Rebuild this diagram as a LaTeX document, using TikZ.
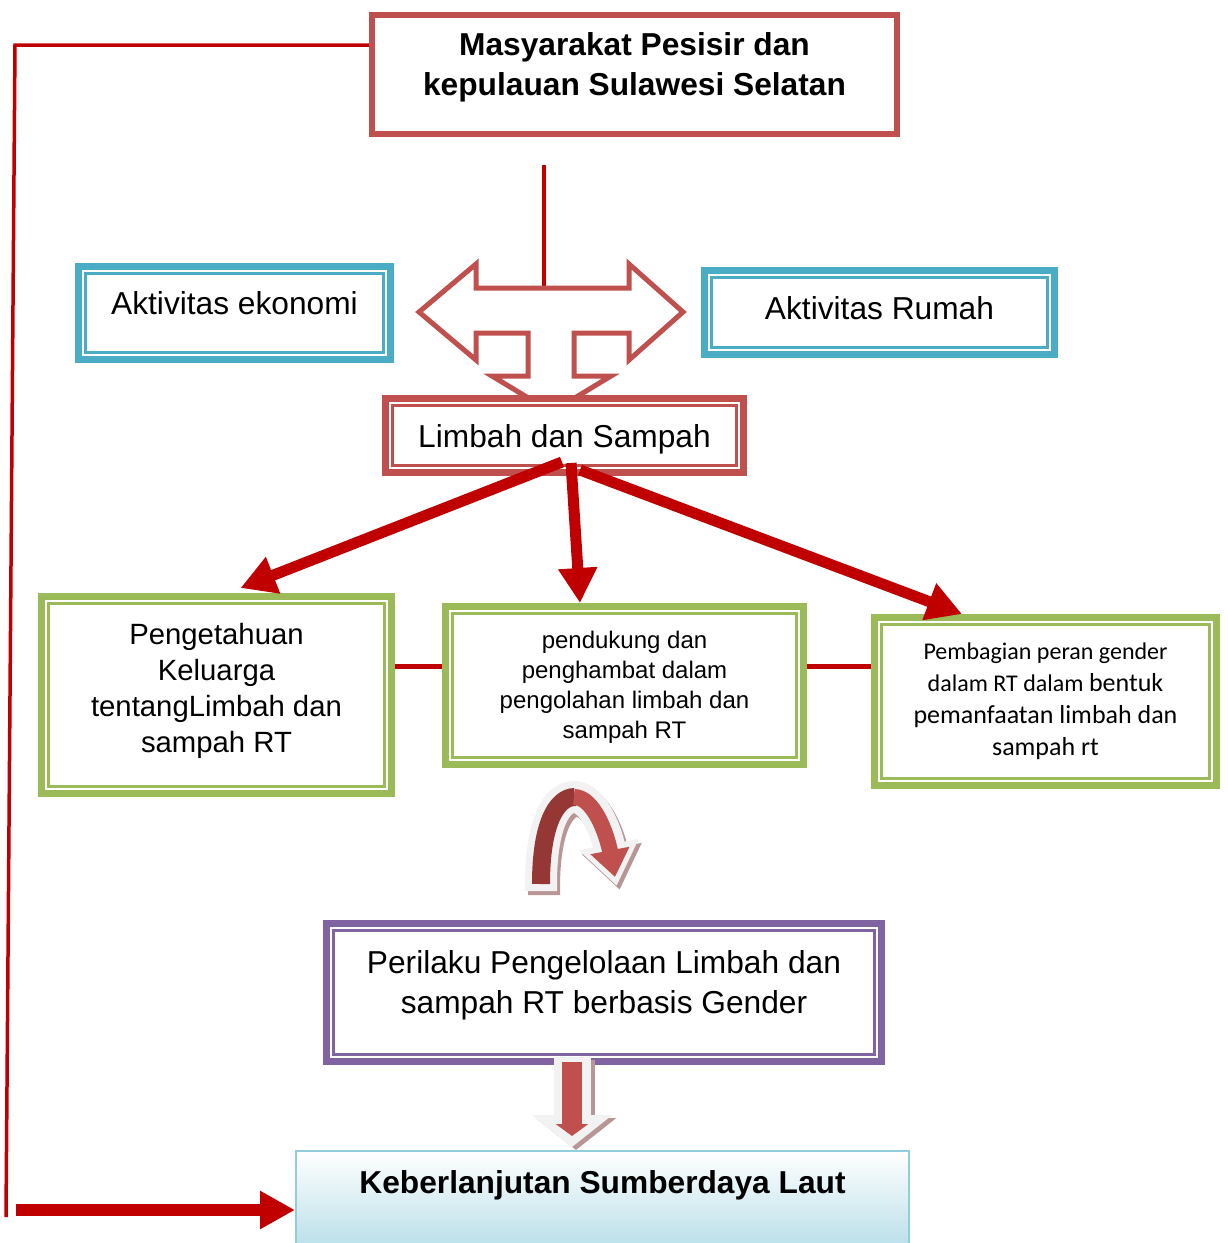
\documentclass[tikz,border=0pt]{standalone}
\usepackage{fontspec}
\setmainfont{Liberation Sans}
\newfontfamily\calibri{Carlito}
\usetikzlibrary{arrows.meta}
\definecolor{boxred}{HTML}{C0504D}
\definecolor{arrowred}{HTML}{C00000}
\definecolor{boxblue}{HTML}{4BACC6}
\definecolor{boxgreen}{HTML}{9BBB59}
\definecolor{boxpurple}{HTML}{8064A2}
\definecolor{lautline}{HTML}{92CDDC}
\definecolor{lautfill}{HTML}{B7DEE8}
\definecolor{turndark}{HTML}{953735}
\definecolor{shadowred}{RGB}{185,150,150}
\definecolor{outlinegray}{HTML}{F2F2F2}

\begin{document}
\begin{tikzpicture}[x=1pt, y=-1pt,
  outerbox/.style={draw, line width=7pt, fill=white, align=center, inner sep=0pt, text height=0pt, text depth=0pt},
  bigtext/.style={font=\fontsize{31.7}{40}\selectfont},
  bigarrow/.style={draw=arrowred, line width=11pt, -{Triangle[length=35pt,width=37pt]}},
  redline/.style={draw=arrowred, line width=4.5pt},
  innerframe/.style={line width=2.5pt}]
\useasboundingbox (0,0) rectangle (1228,1243);

% top row
\node[outerbox, font=\fontsize{31.7}{40}\selectfont\bfseries, draw=boxred, line width=6.5pt, minimum width=525pt, minimum height=119pt, text height=42pt] (pesisir) at (634.5,74.5) {Masyarakat Pesisir dan\\kepulauan Sulawesi Selatan};
\node[outerbox, bigtext, draw=boxblue, minimum width=312pt, minimum height=93pt, text height=2pt] (ekonomi) at (234.5,313) {Aktivitas ekonomi};
\node[outerbox, bigtext, draw=boxblue, minimum width=350pt, minimum height=84pt, text height=14pt] (rumah) at (879.5,312.5) {Aktivitas Rumah};

% three-way block arrow
\draw[redline] ([xshift=-90.5pt,yshift=-28pt]pesisir.south) -- (544,288);
\draw[draw=boxred, line width=5pt, fill=white] (419,312) -- (476,264) -- (476,288) -- (629,288) -- (629,264) -- (683,312) -- (629,360) -- (629,333) -- (574,333) -- (574,376) -- (611,376) -- (551.5,412) -- (492,376) -- (528,376) -- (528,333) -- (476,333) -- (476,360) -- cycle;

\node[outerbox, bigtext, draw=boxred, minimum width=358pt, minimum height=74pt, text height=24pt] (limbah) at (564.5,435.5) {Limbah dan Sampah};

% green row
\node[outerbox, font=\fontsize{29.3}{36}\selectfont, draw=boxgreen, minimum width=350pt, minimum height=197pt, text height=115pt] (pengetahuan) at (216.5,695) {Pengetahuan\\Keluarga\\tentangLimbah dan\\sampah RT};
\node[outerbox, font=\fontsize{24}{30}\selectfont, draw=boxgreen, minimum width=358pt, minimum height=158pt, text height=106pt] (pendukung) at (624.5,685.5) {pendukung dan\\penghambat dalam\\pengolahan limbah dan\\sampah RT};
\node[outerbox, font=\calibri\fontsize{24}{32}\selectfont, draw=boxgreen, minimum width=342pt, minimum height=168pt, text height=108pt] (gender) at (1045.5,701.5) {Pembagian peran gender\\dalam RT dalam {\fontsize{26}{32}\selectfont bentuk}\\{\fontsize{26}{32}\selectfont pemanfaatan limbah dan}\\{\fontsize{26}{32}\selectfont sampah rt}};

% bottom
\node[outerbox, bigtext, draw=boxpurple, minimum width=555pt, minimum height=138pt, text height=42pt] (perilaku) at (604,992.5) {Perilaku Pengelolaan Limbah dan\\sampah RT berbasis Gender};
\node[outerbox, font=\fontsize{31.7}{40}\selectfont\bfseries, draw=lautline, line width=2pt, top color=white, bottom color=lautfill, minimum width=613pt, minimum height=100pt, text depth=16pt] (laut) at (602.5,1201) {Keberlanjutan Sumberdaya Laut};

% thin inner lines
\foreach \n/\c in {ekonomi/boxblue, rumah/boxblue, limbah/boxred, pengetahuan/boxgreen, pendukung/boxgreen, gender/boxgreen, perilaku/boxpurple}
  \draw[innerframe, \c] ([shift={(10.5pt,-10.5pt)}]\n.north west) rectangle ([shift={(-10.5pt,10.5pt)}]\n.south east);

% connectors
\coordinate (corner) at (15,45);
\coordinate (loopend) at (6,1217);
\coordinate (arrowtail) at (16,1210);
\coordinate (linkrow) at (0,666);
\draw[draw=arrowred, line width=3.5pt] (pesisir.west |- corner) -- (corner) -- (loopend);
\draw[draw=arrowred, line width=12pt, -{Triangle[length=35pt,width=36pt]}] (arrowtail) -- (arrowtail -| laut.west);
\draw[draw=arrowred, line width=5pt] (pengetahuan.east |- linkrow) -- (pendukung.west |- linkrow);
\draw[draw=arrowred, line width=5pt] (pendukung.east |- linkrow) -- (gender.west |- linkrow);
\draw[bigarrow] ([xshift=-2.5pt,yshift=14pt]limbah.south) -- ([xshift=24pt,yshift=5pt]pengetahuan.north);
\draw[bigarrow] ([xshift=6.5pt,yshift=13pt]limbah.south) -- ([xshift=-44.5pt]pendukung.north);
\draw[bigarrow] ([xshift=15.5pt,yshift=6pt]limbah.south) -- ([xshift=-83.5pt]gender.north);

% u-turn arrow
\draw[shadowred, line width=32pt, shorten >=-9pt, -{Triangle[length=42pt,width=58pt]}, transform canvas={shift={(3pt,-4pt)}}] (541,891) -- (541,884) .. controls (541,825) and (556,797) .. (574,797) .. controls (594,797) and (607,835) .. (615,877);
\draw[outlinegray, line width=32pt, shorten >=-9pt, -{Triangle[length=42pt,width=58pt]}] (541,891) -- (541,884) .. controls (541,825) and (556,797) .. (574,797) .. controls (594,797) and (607,835) .. (615,877);
\draw[turndark, line width=18pt] (541,884) .. controls (541,825) and (556,797) .. (575,797);
\draw[boxred, line width=16pt, -{Triangle[length=27pt,width=38pt]}] (574,797) .. controls (594,797) and (607,835) .. (615,877);

% down arrow
\coordinate (dropA) at ([xshift=-32pt,yshift=8pt]perilaku.south);
\draw[shadowred, line width=37pt, shorten >=3pt, -{Triangle[length=32pt,width=79pt]}, transform canvas={shift={(4pt,-3pt)}}] (dropA) -- (dropA |- laut.north);
\draw[outlinegray, line width=37pt, shorten >=3pt, -{Triangle[length=32pt,width=79pt]}] (dropA) -- (dropA |- laut.north);
\draw[boxred, line width=20pt, shorten <=5pt, shorten >=14pt, -{Triangle[length=12pt,width=32pt]}] (dropA) -- (dropA |- laut.north);
\end{tikzpicture}
\end{document}
